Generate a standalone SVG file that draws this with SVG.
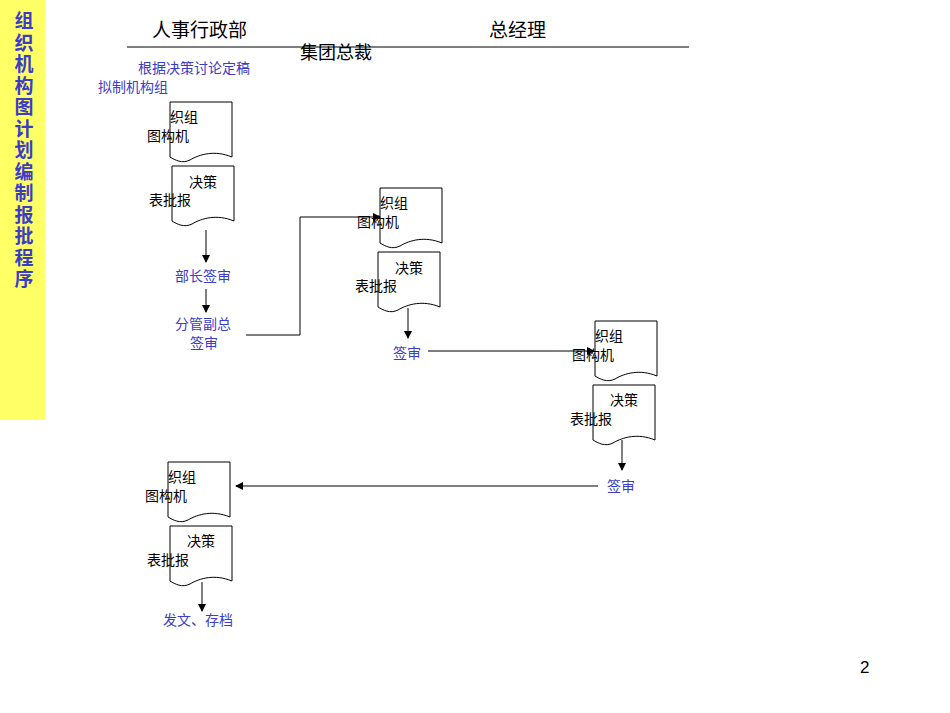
<svg xmlns="http://www.w3.org/2000/svg" width="950" height="713" viewBox="0 0 950 713">
<style>
text{font-family:"Liberation Sans","Noto Sans CJK SC",sans-serif;font-size:14px;fill:#000}
.b{fill:#3c3cc8}
.h{font-size:19px}
.v{font-size:19px;font-weight:bold;fill:#3c3cc8}
.doc{fill:#fff;stroke:#000;stroke-width:1}
.ln{fill:none;stroke:#000;stroke-width:1}
</style>
<defs>
<path id="d" d="M0,0 H62 V55 C45,48 30,52 20,58 C12,62 5,58 0,55 Z"/>
<marker id="a" markerWidth="8" markerHeight="8" refX="7" refY="4" orient="auto" markerUnits="userSpaceOnUse"><path d="M0,0 L8,4 L0,8 Z"/></marker>
</defs>
<rect x="0" y="0" width="45" height="420" fill="#ffff66"/>
<g text-anchor="middle">
<text x="24" y="28" class="v">组</text><text x="24" y="49.5" class="v">织</text><text x="24" y="71" class="v">机</text><text x="24" y="92.5" class="v">构</text><text x="24" y="114" class="v">图</text><text x="24" y="135.5" class="v">计</text><text x="24" y="157" class="v">划</text><text x="24" y="178.5" class="v">编</text><text x="24" y="200" class="v">制</text><text x="24" y="221.5" class="v">报</text><text x="24" y="243" class="v">批</text><text x="24" y="264.5" class="v">程</text><text x="24" y="286" class="v">序</text>
</g>
<text x="152" y="37" class="h">人事行政部</text>
<text x="489" y="37" class="h">总经理</text>
<text x="300" y="59" style="font-size:18px">集团总裁</text>
<line x1="127" y1="47" x2="689" y2="47" stroke="#000"/>
<text x="138" y="73" class="b">根据决策讨论定稿</text>
<text x="98" y="92" class="b">拟制机构组</text>
<g id="n1"><use href="#d" x="170" y="102" class="doc"/><text x="170" y="122">织组</text><text x="147" y="141">图构机</text></g>
<g id="n2"><use href="#d" x="172" y="166" class="doc"/><text x="189" y="187">决策</text><text x="149" y="205">表批报</text></g>
<text id="n3" x="175" y="281" class="b">部长签审</text>
<g id="n4"><text x="175" y="329" class="b">分管副总</text><text x="190" y="348" class="b">签审</text></g>
<g id="n5"><use href="#d" x="380" y="188" class="doc"/><text x="380" y="208">织组</text><text x="357" y="227">图构机</text></g>
<g id="n6"><use href="#d" x="378" y="252" class="doc"/><text x="395" y="273">决策</text><text x="355" y="291">表批报</text></g>
<text id="n7" x="393" y="358" class="b">签审</text>
<g id="n8"><use href="#d" x="595" y="321" class="doc"/><text x="595" y="341">织组</text><text x="572" y="360">图构机</text></g>
<g id="n9"><use href="#d" x="593" y="385" class="doc"/><text x="610" y="405">决策</text><text x="570" y="424">表批报</text></g>
<text id="n10" x="607" y="491" class="b">签审</text>
<g id="n11"><use href="#d" x="168" y="462" class="doc"/><text x="168" y="482">织组</text><text x="145" y="501">图构机</text></g>
<g id="n12"><use href="#d" x="170" y="526" class="doc"/><text x="187" y="546">决策</text><text x="147" y="565">表批报</text></g>
<text id="n13" x="163" y="625" class="b">发文、存档</text>
<g id="connectors" class="ln">
<line x1="206" y1="230" x2="206" y2="262" marker-end="url(#a)"/>
<line x1="206" y1="289" x2="206" y2="312" marker-end="url(#a)"/>
<polyline points="246,335 300,335 300,217 380,217" marker-end="url(#a)"/>
<line x1="408" y1="308" x2="408" y2="338" marker-end="url(#a)"/>
<line x1="428" y1="351" x2="594" y2="351" marker-end="url(#a)"/>
<line x1="622" y1="440" x2="622" y2="470" marker-end="url(#a)"/>
<line x1="598" y1="486" x2="236" y2="486" marker-end="url(#a)"/>
<line x1="202" y1="582" x2="202" y2="611" marker-end="url(#a)"/>
</g>
<text x="860" y="673" style="font-size:17px">2</text>
</svg>
